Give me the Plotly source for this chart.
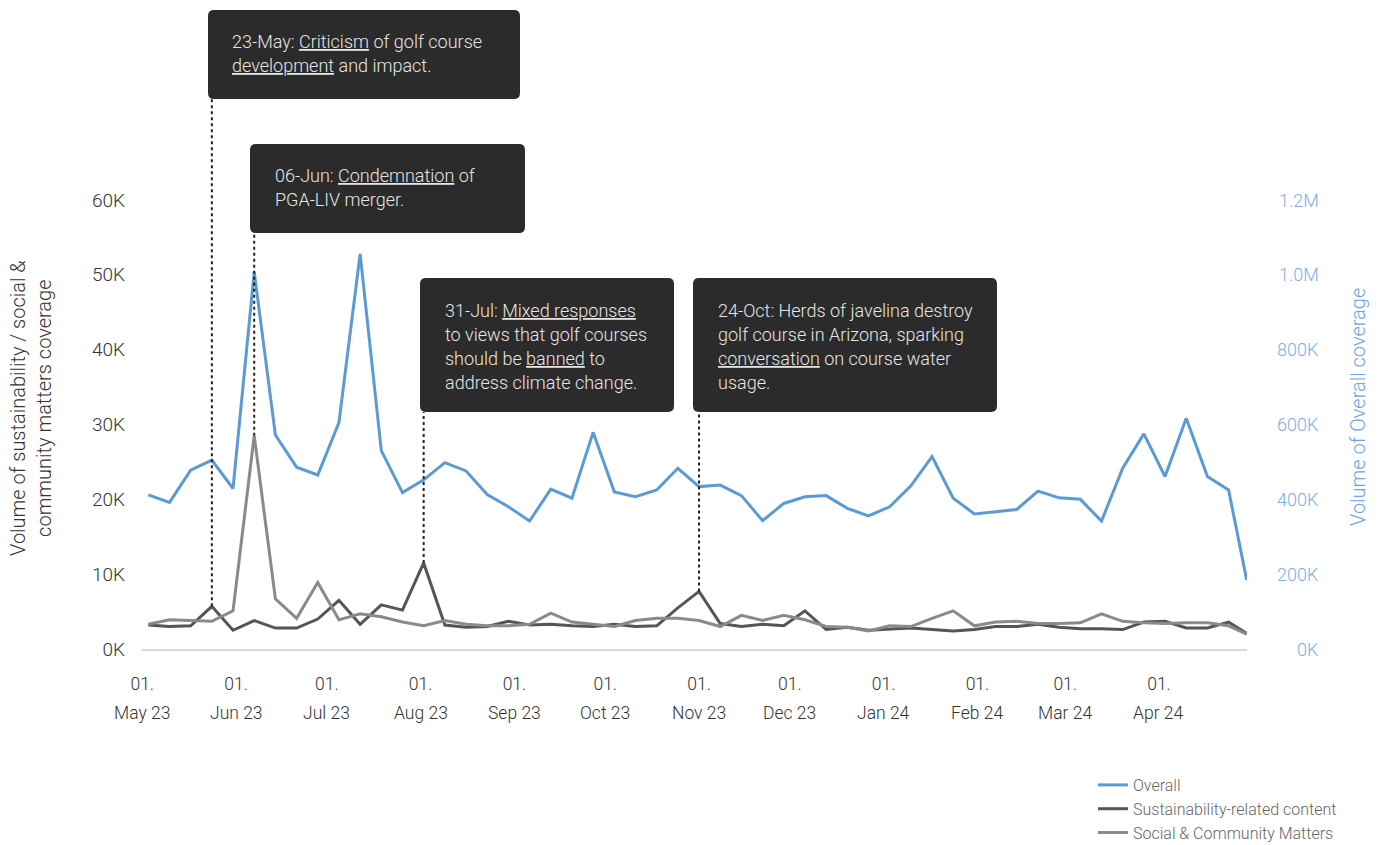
import plotly.graph_objects as go

# ---------------- data ----------------
dates = [
    "2023-05-03", "2023-05-10", "2023-05-17", "2023-05-24", "2023-05-31",
    "2023-06-07", "2023-06-14", "2023-06-21", "2023-06-28",
    "2023-07-05", "2023-07-12", "2023-07-19", "2023-07-26",
    "2023-08-02", "2023-08-09", "2023-08-16", "2023-08-23", "2023-08-30",
    "2023-09-06", "2023-09-13", "2023-09-20", "2023-09-27",
    "2023-10-04", "2023-10-11", "2023-10-18", "2023-10-25",
    "2023-11-01", "2023-11-08", "2023-11-15", "2023-11-22", "2023-11-29",
    "2023-12-06", "2023-12-13", "2023-12-20", "2023-12-27",
    "2024-01-03", "2024-01-10", "2024-01-17", "2024-01-24", "2024-01-31",
    "2024-02-07", "2024-02-14", "2024-02-21", "2024-02-28",
    "2024-03-06", "2024-03-13", "2024-03-20", "2024-03-27",
    "2024-04-03", "2024-04-10", "2024-04-17", "2024-04-24", "2024-04-30",
]

overall = [
    412000, 392000, 478000, 505000, 429000, 1008000, 572000, 486000, 465000,
    605000, 1056000, 530000, 418000, 452000, 498000, 476000, 413000, 380000,
    342000, 427000, 403000, 579000, 420000, 407000, 425000, 483000, 434000,
    438000, 410000, 343000, 389000, 407000, 410000, 376000, 356000, 380000,
    436000, 514000, 403000, 361000, 367000, 373000, 422000, 404000, 400000,
    342000, 483000, 575000, 461000, 617000, 461000, 425000, 184000,
]

sustainability = [
    3200, 3000, 3100, 5700, 2500, 3800, 2800, 2800, 4000, 6500, 3300, 5900,
    5200, 11500, 3200, 2900, 3000, 3700, 3200, 3300, 3100, 3000, 3300, 3000,
    3100, 5500, 7700, 3400, 3000, 3300, 3100, 5100, 2600, 2900, 2500, 2700,
    2800, 2600, 2400, 2600, 3000, 3000, 3300, 2900, 2700, 2700, 2600, 3600,
    3700, 2800, 2800, 3600, 2100,
]

social = [
    3300, 3900, 3800, 3700, 5100, 28500, 6700, 4100, 8900, 3900, 4700, 4300,
    3600, 3100, 3800, 3300, 3100, 3100, 3300, 4800, 3600, 3300, 3000, 3800,
    4100, 4100, 3800, 3000, 4500, 3800, 4500, 3900, 3000, 2900, 2400, 3100,
    3000, 4100, 5100, 3100, 3600, 3700, 3400, 3400, 3500, 4700, 3700, 3500,
    3400, 3500, 3500, 3100, 2000,
]

left_tickvals = [0, 10000, 20000, 30000, 40000, 50000, 60000]
left_ticktext = ["0K", "10K", "20K", "30K", "40K", "50K", "60K"]
right_tickvals = [0, 200000, 400000, 600000, 800000, 1000000, 1200000]
right_ticktext = ["0K", "200K", "400K", "600K", "800K", "1.0M", "1.2M"]

month_ticks = [
    "2023-05-01", "2023-06-01", "2023-07-01", "2023-08-01", "2023-09-01",
    "2023-10-01", "2023-11-01", "2023-12-01", "2024-01-01", "2024-02-01",
    "2024-03-01", "2024-04-01",
]
month_labels = [
    "May 23", "Jun 23", "Jul 23", "Aug 23", "Sep 23", "Oct 23", "Nov 23",
    "Dec 23", "Jan 24", "Feb 24", "Mar 24", "Apr 24",
]

# event annotations: anchor date, series it points to, text lines
U = '<span style="text-decoration:underline">{}</span>'
event_dates = ["2023-05-24", "2023-06-07", "2023-08-02", "2023-11-01"]
event_series = ["sustainability", "social", "sustainability", "sustainability"]
event_lines = [
    ["23-May: " + U.format("Criticism") + " of golf course",
     U.format("development") + " and impact."],
    ["06-Jun: " + U.format("Condemnation") + " of",
     "PGA-LIV merger."],
    ["31-Jul: " + U.format("Mixed responses"),
     "to views that golf courses",
     "should be " + U.format("banned") + " to",
     "address climate change."],
    ["24-Oct: Herds of javelina destroy",
     "golf course in Arizona, sparking",
     U.format("conversation") + " on course water",
     "usage."],
]

# ---------------- layout geometry (pixels) ----------------
W, H = 1387, 845
ML, MR, MT, MB = 142, 140, 200, 196
PW, PH = W - ML - MR, H - MT - MB
Y_MAX = 60000
Y2_MAX = 1200000

def fx(px):
    return (px - ML) / PW

def fy(py):
    return (H - MB - py) / PH

def rounded_box(x0, y0, x1, y1, r=6):
    pts = [
        ("M", [(x0 + r, y0)]),
        ("L", [(x1 - r, y0)]),
        ("Q", [(x1, y0), (x1, y0 + r)]),
        ("L", [(x1, y1 - r)]),
        ("Q", [(x1, y1), (x1 - r, y1)]),
        ("L", [(x0 + r, y1)]),
        ("Q", [(x0, y1), (x0, y1 - r)]),
        ("L", [(x0, y0 + r)]),
        ("Q", [(x0, y0), (x0 + r, y0)]),
    ]
    s = ""
    for cmd, ps in pts:
        s += cmd + " " + " ".join(f"{fx(a):.5f},{fy(b):.5f}" for a, b in ps) + " "
    return s + "Z"

boxes = [(208, 10, 520, 99), (250, 144, 525, 233), (420, 278, 674, 412), (693, 278, 997, 412)]
text_x = [230, 273, 443, 716]
text_y0 = [41, 175, 310, 310]
LINE_GAP = 24

FONT = "Roboto"
BLUE = "#5b9bd5"
DARK = "#555555"
MID = "#8a8a8a"

fig = go.Figure()
fig.add_trace(go.Scatter(x=dates, y=overall, name="Overall", mode="lines",
                         line=dict(color=BLUE, width=3), yaxis="y2"))
fig.add_trace(go.Scatter(x=dates, y=sustainability, name="Sustainability-related content",
                         mode="lines", line=dict(color=DARK, width=3)))
fig.add_trace(go.Scatter(x=dates, y=social, name="Social & Community Matters",
                         mode="lines", line=dict(color=MID, width=3)))

shapes = []
annotations = []
series_map = {"sustainability": sustainability, "social": social}
for i, d in enumerate(event_dates):
    val = series_map[event_series[i]][dates.index(d)]
    bx0, by0, bx1, by1 = boxes[i]
    shapes.append(dict(type="line", xref="x", yref="paper", x0=d, x1=d,
                       y0=val / Y_MAX, y1=fy(by1),
                       line=dict(color="#222222", width=2, dash="dot"), layer="above"))
    shapes.append(dict(type="path", xref="paper", yref="paper",
                       path=rounded_box(bx0, by0, bx1, by1),
                       fillcolor="#2b2b2b", line=dict(width=0), layer="above"))
    for j, t in enumerate(event_lines[i]):
        annotations.append(dict(text=t, xref="paper", yref="paper",
                                x=fx(text_x[i]), y=fy(text_y0[i] + j * LINE_GAP),
                                xanchor="left", yanchor="middle", showarrow=False,
                                font=dict(family=FONT, size=18, color="#e6e6e6", weight=300)))

# month labels (second row of x tick labels)
for d, lab in zip(month_ticks, month_labels):
    annotations.append(dict(text=lab, xref="x", yref="paper", x=d, y=fy(713),
                            xanchor="center", yanchor="middle", showarrow=False,
                            font=dict(family=FONT, size=17.5, color="#333333", weight=300)))

# right axis tick labels (right-aligned)
for v, lab in zip(right_tickvals, right_ticktext):
    annotations.append(dict(text=lab, xref="paper", yref="y2", x=fx(1321), y=v,
                            xanchor="right", yanchor="middle", showarrow=False,
                            font=dict(family=FONT, size=18, color="#7eaee3", weight=300)))

# axis titles
annotations.append(dict(text="Volume of sustainability / social &<br>community matters coverage",
                        xref="paper", yref="paper", x=fx(31), y=fy(408), textangle=-90,
                        xanchor="center", yanchor="middle", showarrow=False,
                        font=dict(family=FONT, size=20, color="#333333", weight=300)))
annotations.append(dict(text="Volume of Overall coverage",
                        xref="paper", yref="paper", x=fx(1358), y=fy(407), textangle=-90,
                        xanchor="center", yanchor="middle", showarrow=False,
                        font=dict(family=FONT, size=20, color="#6fa3dc", weight=300)))

fig.update_layout(
    width=W, height=H,
    margin=dict(l=ML, r=MR, t=MT, b=MB, autoexpand=False),
    paper_bgcolor="white", plot_bgcolor="white",
    font=dict(family=FONT, weight=300, color="#333333"),
    showlegend=True,
    legend=dict(x=fx(1093), y=fy(768), xanchor="left", yanchor="top",
                font=dict(family=FONT, size=16, color="#666666", weight=300),
                bgcolor="rgba(0,0,0,0)", tracegroupgap=0),
    xaxis=dict(type="date", range=["2023-04-30 22:00", "2024-04-30 02:00"],
               tickmode="array", tickvals=month_ticks, ticktext=["01."] * len(month_ticks),
               showgrid=False, zeroline=False, showline=True, linecolor="#d9d9d9", linewidth=2,
               ticks="", ticklabelstandoff=18,
               tickfont=dict(family=FONT, size=17.5, color="#333333", weight=300)),
    yaxis=dict(range=[0, Y_MAX], tickmode="array", tickvals=left_tickvals, ticktext=left_ticktext,
               showgrid=False, zeroline=False, showline=False, ticks="", ticklabelstandoff=16,
               tickfont=dict(family=FONT, size=19, color="#333333", weight=300)),
    yaxis2=dict(range=[0, Y2_MAX], overlaying="y", side="right", showgrid=False,
                zeroline=False, showline=False, showticklabels=False, ticks=""),
    shapes=shapes,
    annotations=annotations,
    hovermode=False,
)

fig.write_html("out.html", config={"displayModeBar": False},
               post_script="document.body.style.margin='0';")
